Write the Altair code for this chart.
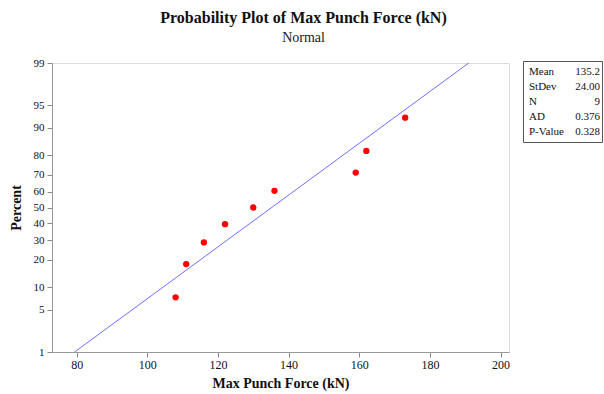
import altair as alt
import pandas as pd
from statistics import NormalDist

# Data
force = [108, 111, 116, 122, 130, 136, 159, 162, 173]
percent = [7.4, 18.1, 28.7, 39.4, 50.0, 60.6, 71.3, 81.9, 92.6]
fit_x = [79.4, 191.0]
fit_pct = [1, 99]
x_ticks = [80, 100, 120, 140, 160, 180, 200]
y_tick_pct = [1, 5, 10, 20, 30, 40, 50, 60, 70, 80, 90, 95, 99]
stat_labels = ["Mean", "StDev", "N", "AD", "P-Value"]
stat_values = ["135.2", "24.00", "9", "0.376", "0.328"]

nd = NormalDist()
y_tick_z = [nd.inv_cdf(p / 100) for p in y_tick_pct]
zlim = nd.inv_cdf(0.99)

FONT = "Liberation Serif"
W, H = 457, 289

pts = pd.DataFrame({"force": force, "pct": percent})
fit = pd.DataFrame({"force": fit_x, "pct": fit_pct})

xscale = alt.Scale(domain=[73, 202.4], nice=False, zero=False)
yscale = alt.Scale(domain=[-zlim, zlim], nice=False, zero=False)

xaxis = alt.Axis(values=x_ticks, title="Max Punch Force (kN)", grid=False, tickCount=20,
                 labelFont=FONT, labelFontSize=12, labelColor="#111111",
                 titleFont=FONT, titleFontSize=14, titleFontWeight="bold", titleColor="#111111",
                 tickColor="#888888", domainColor="#999999", tickSize=5,
                 labelPadding=2, titlePadding=6, labelFlush=False, labelOverlap=False)
yaxis = alt.Axis(values=y_tick_z, title="Percent", grid=False, tickCount=30,
                 labelExpr="round(cumulativeNormal(datum.value) * 100)",
                 labelFont=FONT, labelFontSize=11, labelColor="#111111",
                 titleFont=FONT, titleFontSize=14, titleFontWeight="bold", titleColor="#111111",
                 tickColor="#888888", domainColor="#999999", tickSize=5,
                 labelPadding=3, titlePadding=10, labelFlush=False, labelOverlap=False)

line = alt.Chart(fit).transform_calculate(
    z="quantileNormal(datum.pct / 100)"
).mark_line(color="#6f6fff", strokeWidth=1).encode(
    x=alt.X("force:Q", scale=xscale, axis=xaxis),
    y=alt.Y("z:Q", scale=yscale, axis=yaxis),
)

points = alt.Chart(pts).transform_calculate(
    z="quantileNormal(datum.pct / 100)"
).mark_circle(color="#ff0000", opacity=1, size=40).encode(
    x=alt.X("force:Q", scale=xscale),
    y=alt.Y("z:Q", scale=yscale),
)

box = alt.Chart(pd.DataFrame({"a": [0]})).mark_rect(
    fill="white", stroke="#555555", strokeWidth=1
).encode(x=alt.value(471.5), x2=alt.value(550.5), y=alt.value(-1.5), y2=alt.value(79.5))

layers = [line, points, box]
row_y = [8.5, 23.5, 38.5, 53.5, 69]
for lab, val, yy in zip(stat_labels, stat_values, row_y):
    d = pd.DataFrame({"label": [lab], "value": [val]})
    layers.append(alt.Chart(d).mark_text(font=FONT, fontSize=11, align="left",
                                         baseline="middle", color="#111111").encode(
        text="label:N", x=alt.value(477), y=alt.value(yy)))
    layers.append(alt.Chart(d).mark_text(font=FONT, fontSize=11, align="right",
                                         baseline="middle", color="#111111").encode(
        text="value:N", x=alt.value(548), y=alt.value(yy)))

chart = alt.layer(*layers).properties(
    width=W, height=H,
    title=alt.TitleParams(
        text="Probability Plot of Max Punch Force (kN)",
        subtitle="Normal",
        font=FONT, fontSize=16, fontWeight="bold", color="#111111",
        subtitleFont=FONT, subtitleFontSize=14, subtitleColor="#222222",
        subtitlePadding=5, anchor="middle", frame="group", dx=23, offset=12,
    ),
    autosize=alt.AutoSizeParams(type="none"),
    padding={"left": 52, "top": 63, "right": 95, "bottom": 42},
).configure_view(stroke="#999999", strokeWidth=1).configure(background="white")

chart.save("out.html", embed_options={"renderer": "svg", "actions": False})
